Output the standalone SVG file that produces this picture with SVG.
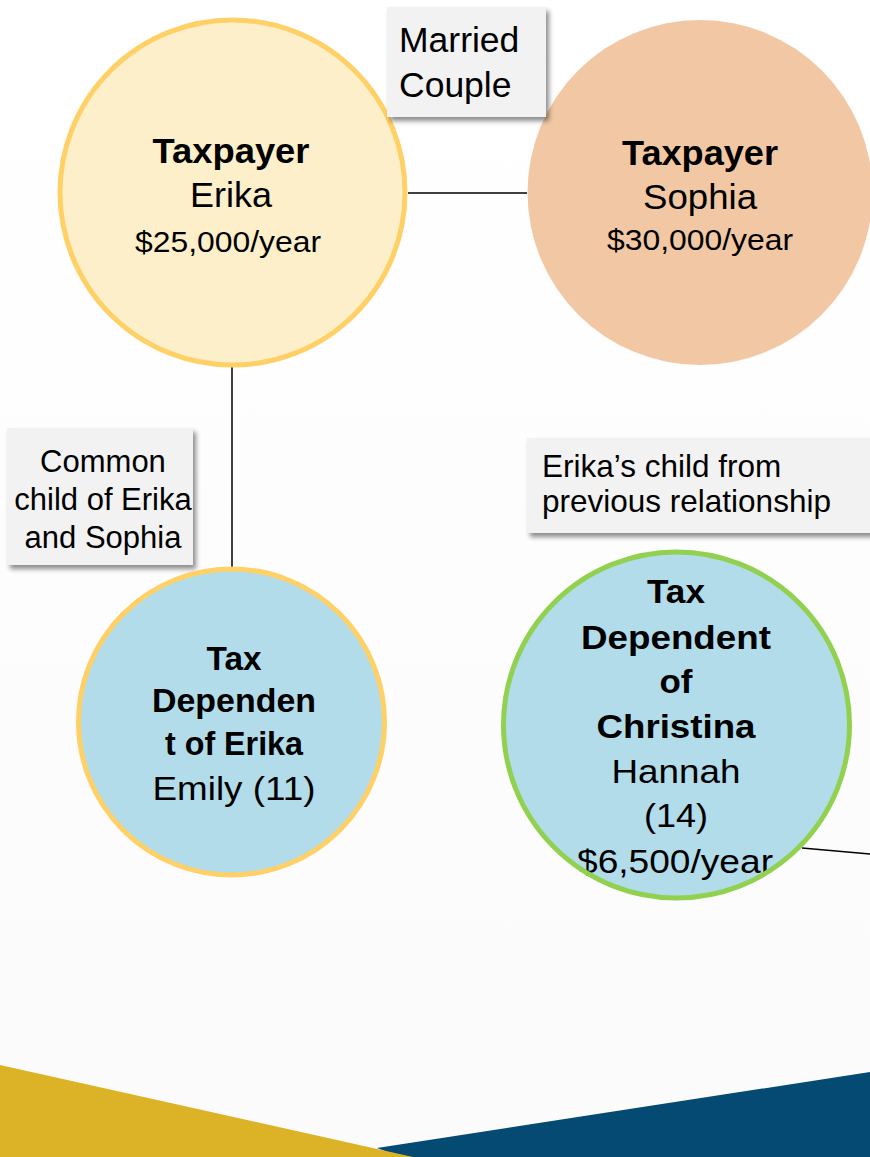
<svg xmlns="http://www.w3.org/2000/svg" width="870" height="1157" viewBox="0 0 870 1157">
<defs>
<filter id="sh" x="-10%" y="-10%" width="130%" height="140%">
<feDropShadow dx="3" dy="4" stdDeviation="2.5" flood-color="#000" flood-opacity="0.45"/>
</filter>
<linearGradient id="bg" x1="0" y1="0" x2="0" y2="1">
<stop offset="0" stop-color="#fff"/>
<stop offset="1" stop-color="#fbfbfb"/>
</linearGradient>
<style>
text{font-family:"Liberation Sans",Arial,sans-serif;fill:#000}
.b{font-weight:bold}
.m{text-anchor:middle}
.lbl{fill:#f2f2f2;filter:url(#sh)}
.conn{stroke:#000;stroke-width:1.5;fill:none}
.blue{fill:#b2dce9}
</style>
</defs>
<rect width="870" height="1157" fill="url(#bg)"/>
<g id="footer">
<polygon points="377,1148 870,1072 870,1157 400,1157" fill="#044a73"/>
<polygon points="0,1065 413,1157 0,1157" fill="#dcb326"/>
</g>
<g id="connectors">
<line class="conn" x1="408" y1="193" x2="527" y2="193"/>
<line class="conn" x1="232" y1="367" x2="232" y2="568"/>
<line class="conn" x1="802" y1="848" x2="870" y2="854"/>
</g>
<g id="erika">
<circle cx="232.5" cy="192.5" r="172.5" fill="#fdefc9" stroke="#ffd066" stroke-width="5"/>
<text class="b m" x="231" y="163" font-size="35" textLength="157" lengthAdjust="spacingAndGlyphs">Taxpayer</text>
<text class="m" x="231" y="207" font-size="35" textLength="82" lengthAdjust="spacingAndGlyphs">Erika</text>
<text class="m" x="228" y="252" font-size="29" textLength="186" lengthAdjust="spacingAndGlyphs">$25,000/year</text>
</g>
<g id="sophia">
<circle cx="700" cy="192.5" r="172.5" fill="#f2c8a4"/>
<text class="b m" x="700" y="165" font-size="35" textLength="156" lengthAdjust="spacingAndGlyphs">Taxpayer</text>
<text class="m" x="700" y="209" font-size="35" textLength="114" lengthAdjust="spacingAndGlyphs">Sophia</text>
<text class="m" x="700" y="250" font-size="29" textLength="186" lengthAdjust="spacingAndGlyphs">$30,000/year</text>
</g>
<g id="married-label">
<rect class="lbl" x="387" y="7" width="159" height="110"/>
<text x="399" y="52" font-size="35.5">Married</text>
<text x="399" y="97" font-size="35.5">Couple</text>
</g>
<g id="common-label">
<rect class="lbl" x="7" y="428" width="186" height="137"/>
<text class="m" x="103" y="472" font-size="31">Common</text>
<text class="m" x="103" y="510" font-size="31">child of Erika</text>
<text class="m" x="103" y="548" font-size="31">and Sophia</text>
</g>
<g id="previous-label">
<rect class="lbl" x="527" y="438" width="350" height="95"/>
<text x="542" y="477" font-size="31.5">Erika’s child from</text>
<text x="542" y="512" font-size="31.5">previous relationship</text>
</g>
<g id="emily">
<circle class="blue" cx="231.5" cy="722" r="153" stroke="#ffd066" stroke-width="5"/>
<text class="b m" x="234" y="670" font-size="33" textLength="55" lengthAdjust="spacingAndGlyphs">Tax</text>
<text class="b m" x="234" y="712" font-size="33" textLength="164" lengthAdjust="spacingAndGlyphs">Dependen</text>
<text class="b m" x="234" y="755" font-size="33" textLength="138" lengthAdjust="spacingAndGlyphs">t of Erika</text>
<text class="m" x="234" y="800" font-size="34" textLength="163" lengthAdjust="spacingAndGlyphs">Emily (11)</text>
</g>
<g id="hannah">
<circle class="blue" cx="676.5" cy="725" r="173"/>
<text class="b m" x="676" y="603" font-size="34" textLength="58" lengthAdjust="spacingAndGlyphs">Tax</text>
<text class="b m" x="676" y="649" font-size="34" textLength="190" lengthAdjust="spacingAndGlyphs">Dependent</text>
<text class="b m" x="676" y="693" font-size="34" textLength="33" lengthAdjust="spacingAndGlyphs">of</text>
<text class="b m" x="676" y="738" font-size="34" textLength="159" lengthAdjust="spacingAndGlyphs">Christina</text>
<text class="m" x="676" y="783" font-size="34" textLength="129" lengthAdjust="spacingAndGlyphs">Hannah</text>
<text class="m" x="676" y="827" font-size="34" textLength="64" lengthAdjust="spacingAndGlyphs">(14)</text>
<text class="m" x="675" y="873" font-size="34" textLength="196" lengthAdjust="spacingAndGlyphs">$6,500/year</text>
<circle cx="676.5" cy="725" r="173" fill="none" stroke="#92d050" stroke-width="5"/>
</g>
</svg>
